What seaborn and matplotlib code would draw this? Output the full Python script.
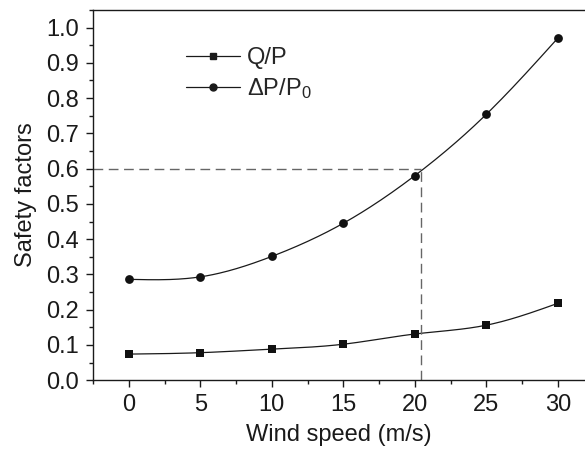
import matplotlib

matplotlib.use("Agg")
import matplotlib.pyplot as plt
import numpy as np
import pandas as pd
import seaborn as sns
from matplotlib.lines import Line2D
from matplotlib.ticker import FormatStrFormatter, MultipleLocator

wind_speed = [0, 5, 10, 15, 20, 25, 30]
q_over_p = [0.074, 0.078, 0.088, 0.102, 0.131, 0.156, 0.218]
dp_over_p0 = [0.286, 0.293, 0.351, 0.445, 0.580, 0.754, 0.970]
limit_speed = 20.45
limit_factor = 0.6


def natural_spline(x, y, n=200):
    # plain natural cubic spline, just to draw the smooth connecting line
    x = np.asarray(x, float)
    y = np.asarray(y, float)
    h = np.diff(x)
    k = len(x)
    a = np.zeros((k, k))
    b = np.zeros(k)
    a[0, 0] = a[-1, -1] = 1.0
    for i in range(1, k - 1):
        a[i, i - 1] = h[i - 1]
        a[i, i] = 2 * (h[i - 1] + h[i])
        a[i, i + 1] = h[i]
        b[i] = 6 * ((y[i + 1] - y[i]) / h[i] - (y[i] - y[i - 1]) / h[i - 1])
    m = np.linalg.solve(a, b)
    xs = np.linspace(x[0], x[-1], n)
    idx = np.clip(np.searchsorted(x, xs) - 1, 0, k - 2)
    t0 = x[idx + 1] - xs
    t1 = xs - x[idx]
    hi = h[idx]
    ys = (m[idx] * t0**3 + m[idx + 1] * t1**3) / (6 * hi) \
        + (y[idx] / hi - m[idx] * hi / 6) * t0 \
        + (y[idx + 1] / hi - m[idx + 1] * hi / 6) * t1
    return xs, ys


sns.set_theme(style="ticks")
plt.rcParams["font.family"] = ["Liberation Sans", "DejaVu Sans"]
plt.rcParams["mathtext.fontset"] = "custom"
plt.rcParams["mathtext.rm"] = "Liberation Sans"
plt.rcParams["mathtext.it"] = "Liberation Sans"

ink = "#1a1a1a"
fs = 17

fig = plt.figure(figsize=(5.85, 4.51), dpi=100)
ax = fig.add_axes([0.159, 0.157, 0.841, 0.821])

points = pd.DataFrame({"speed": wind_speed, "qp": q_over_p, "dp": dp_over_p0})

for col, marker in [("qp", "s"), ("dp", "o")]:
    xs, ys = natural_spline(points["speed"], points[col])
    sns.lineplot(x=xs, y=ys, ax=ax, color=ink, linewidth=0.9, estimator=None, sort=False)
    sns.scatterplot(data=points, x="speed", y=col, ax=ax, marker=marker, s=40,
                    color="#111111", edgecolor="#111111", linewidth=0, zorder=3)

ax.plot([-2.5, limit_speed], [limit_factor, limit_factor], color="#666666",
        linestyle=(0, (7, 4)), linewidth=1.0)
ax.plot([limit_speed, limit_speed], [0, limit_factor], color="#666666",
        linestyle=(0, (7, 4)), linewidth=1.0)

ax.set_xlim(-2.5, 31.9)
ax.set_ylim(0, 1.05)
ax.xaxis.set_major_locator(MultipleLocator(5))
ax.xaxis.set_minor_locator(MultipleLocator(2.5))
ax.yaxis.set_major_locator(MultipleLocator(0.1))
ax.yaxis.set_minor_locator(MultipleLocator(0.05))
ax.yaxis.set_major_formatter(FormatStrFormatter("%.1f"))
ax.tick_params(which="major", direction="out", length=5, width=1, labelsize=fs, colors=ink)
ax.tick_params(which="minor", direction="out", length=3, width=1, colors=ink)
ax.tick_params(axis="x", pad=5)
ax.tick_params(axis="y", pad=5)

for side in ["left", "bottom", "top"]:
    ax.spines[side].set_color(ink)
    ax.spines[side].set_linewidth(1.0)
ax.spines["right"].set_visible(False)

ax.set_xlabel("Wind speed (m/s)", fontsize=fs, color=ink, labelpad=6)
ax.set_ylabel("Safety factors", fontsize=fs, color=ink, labelpad=7)

handles = [
    Line2D([], [], color=ink, linewidth=0.9, marker="s", markersize=5),
    Line2D([], [], color=ink, linewidth=0.9, marker="o", markersize=5),
]
ax.legend(handles, ["Q/P", r"$\Delta$P/P$_0$"], loc="upper left", bbox_to_anchor=(0.19, 0.90),
          frameon=False, fontsize=fs, handlelength=2.25, handletextpad=0.3,
          labelspacing=0.3, borderpad=0, borderaxespad=0)

fig.savefig("out.png", dpi=100)
